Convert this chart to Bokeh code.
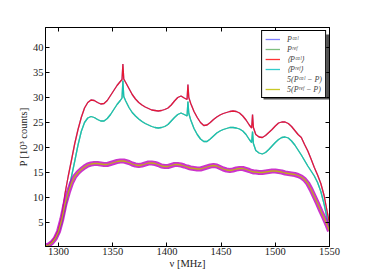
from bokeh.plotting import figure
from bokeh.models import LinearAxis, FixedTicker, CustomJSTickFormatter, Range1d, BoxAnnotation, Legend, LegendItem
from bokeh.embed import file_html
from bokeh.resources import INLINE

nu = [1288, 1291, 1294, 1297, 1300, 1303, 1306, 1309, 1312, 1315, 1318, 1321, 1324, 1327, 1330,
      1333, 1336, 1339, 1342, 1345, 1348, 1351, 1354, 1357, 1358.6, 1359.4, 1360.2, 1362, 1365,
      1368, 1371, 1374, 1377, 1380, 1383, 1386, 1389, 1392, 1395, 1398, 1401, 1404, 1407, 1410,
      1413, 1416, 1418.6, 1419.4, 1420.2, 1422, 1425, 1428, 1431, 1434, 1437, 1440, 1443, 1446,
      1449, 1452, 1455, 1458, 1461, 1464, 1467, 1470, 1473, 1476, 1478.2, 1479.0, 1479.8, 1482,
      1485, 1488, 1491, 1494, 1497, 1500, 1503, 1506, 1509, 1512, 1515, 1518, 1521, 1524, 1527,
      1530, 1533, 1536, 1539, 1542, 1545, 1548, 1550]

p_cal = [0.3, 0.6, 1.2, 2.1, 3.6, 6.2, 10.8, 14.3, 17.5, 20.8, 23.6, 26.0, 27.9, 29.0, 29.5,
         29.4, 29.0, 28.7, 28.8, 29.4, 30.4, 31.4, 32.4, 33.2, 33.6, 36.7, 33.7, 33.0, 31.8,
         30.6, 29.7, 29.0, 28.5, 28.1, 27.8, 27.5, 27.4, 27.3, 27.4, 27.6, 27.9, 28.5, 29.3, 30.0,
         30.3, 29.9, 29.6, 32.6, 30.0, 28.8, 27.2, 26.0, 25.0, 24.4, 24.5, 25.0, 25.6, 26.1,
         26.5, 26.8, 27.0, 27.2, 27.3, 27.2, 26.9, 26.3, 25.5, 24.5, 23.9, 26.6, 24.0, 22.6,
         22.1, 22.0, 22.4, 23.0, 23.6, 24.3, 24.9, 25.1, 25.1, 24.8, 24.2, 23.4, 22.6, 22.0, 20.6,
         19.3, 17.7, 16.0, 14.5, 12.8, 10.4, 7.0, 4.8]

p_ref = [0.3, 0.5, 1.0, 1.7, 2.8, 4.8, 7.7, 11.0, 14.2, 17.3, 20.5, 23.2, 25.0, 25.9, 26.2,
         26.0, 25.6, 25.3, 25.3, 25.8, 26.6, 27.6, 28.6, 29.4, 29.9, 33.4, 30.2, 29.3, 28.0,
         27.0, 26.3, 25.7, 25.2, 24.8, 24.5, 24.2, 24.0, 23.9, 24.0, 24.2, 24.6, 25.3, 26.0, 26.6,
         26.9, 26.6, 26.3, 29.2, 26.8, 25.5, 23.8, 22.6, 21.7, 21.2, 21.2, 21.7, 22.3, 22.9,
         23.3, 23.6, 23.8, 24.0, 24.0, 23.9, 23.7, 23.3, 22.6, 21.6, 21.0, 23.2, 20.8, 19.4,
         18.9, 18.7, 19.0, 19.6, 20.3, 21.0, 21.6, 22.0, 22.1, 21.9, 21.3, 20.5, 19.5, 18.5, 17.4,
         16.3, 15.3, 14.3, 13.0, 11.2, 8.7, 5.6, 3.6]

diff = [0.3, 0.5, 1.0, 1.8, 3.2, 5.6, 8.7, 11.0, 12.9, 14.2, 15.0, 15.6, 16.1, 16.5, 16.7,
        16.8, 16.8, 16.7, 16.6, 16.6, 16.8, 17.0, 17.2, 17.3, 17.3, 17.3, 17.3, 17.2, 17.0,
        16.7, 16.5, 16.4, 16.5, 16.7, 16.9, 16.9, 16.8, 16.6, 16.3, 16.2, 16.2, 16.4, 16.6, 16.6,
        16.5, 16.3, 16.1, 16.1, 16.0, 15.9, 15.8, 15.7, 15.7, 15.9, 16.1, 16.3, 16.4, 16.3,
        16.0, 15.7, 15.5, 15.4, 15.5, 15.7, 15.8, 15.8, 15.6, 15.4, 15.2, 15.2, 15.1, 15.1,
        15.0, 15.0, 15.1, 15.2, 15.3, 15.3, 15.2, 15.1, 14.9, 14.8, 14.7, 14.6, 14.4, 14.1, 13.6,
        12.8, 11.6, 10.2, 8.8, 7.3, 5.9, 4.4, 3.3]

labels = ["Pᶜᵃˡ", "Pʳᵉᶠ", "⟨Pᶜᵃˡ⟩", "⟨Pʳᵉᶠ⟩", "5(Pᶜᵃˡ − P)", "5(Pʳᵉᶠ − P)"]
x_ticks = [1300, 1350, 1400, 1450, 1500, 1550]
y_ticks = [5, 10, 15, 20, 25, 30, 35, 40]

FONT = "Liberation Serif"

p = figure(width=366, height=274, output_backend="svg", toolbar_location=None,
           x_range=Range1d(1288, 1550), y_range=Range1d(0.2, 44),
           min_border_left=45, min_border_top=27, min_border_right=37, min_border_bottom=28)
p.xgrid.visible = False
p.ygrid.visible = False
p.outline_line_color = "black"
p.outline_line_width = 1
p.outline_line_alpha = 1

# legend shadow (frame-relative screen units, y measured up from frame bottom)
shadow = BoxAnnotation(left=218, right=284, top=212, bottom=147,
                       left_units="screen", right_units="screen",
                       top_units="screen", bottom_units="screen",
                       fill_color="#333333", fill_alpha=0.85, line_color=None,
                       level="underlay")
p.add_layout(shadow)

r_blue = p.line(nu, p_cal, color="#0000ff", line_width=1.3, alpha=0.5)
r_green = p.line(nu, p_ref, color="#008000", line_width=1.3, alpha=0.5)
r_red = p.line(nu, p_cal, color="#ff0000", line_width=1.3, alpha=0.8)
r_cyan = p.line(nu, p_ref, color="#00bfbf", line_width=1.3, alpha=0.8)
r_mag = p.line(nu, diff, color="#bf00bf", line_width=5, alpha=0.8)
r_yel = p.line(nu, diff, color="#bfbf00", line_width=1.3, alpha=0.85)
# thin proxy for the noisy series' legend swatch
r_mag_key = p.line([], [], color="#bf00bf", line_width=1.3, alpha=0.6)

for ax in (p.xaxis[0], p.yaxis[0]):
    ax.major_tick_in = 4
    ax.major_tick_out = 0
    ax.minor_tick_line_color = None
    ax.major_label_text_font = FONT
    ax.major_label_text_font_size = "10.5px"
    ax.major_label_text_color = "#222222"
    ax.axis_label_text_font = FONT
    ax.axis_label_text_font_size = "10.5px"
    ax.axis_label_text_font_style = "normal"
    ax.axis_label_text_color = "#222222"
    ax.axis_line_color = "black"

p.xaxis[0].ticker = FixedTicker(ticks=x_ticks)
p.yaxis[0].ticker = FixedTicker(ticks=y_ticks)
p.xaxis[0].axis_label = "ν [MHz]"
p.yaxis[0].axis_label = "P [10³ counts]"
p.xaxis[0].major_label_standoff = 1
p.xaxis[0].axis_label_standoff = 0
p.yaxis[0].major_label_standoff = 2
p.yaxis[0].axis_label_standoff = 1

blank = CustomJSTickFormatter(code="return ''")
top = LinearAxis(ticker=FixedTicker(ticks=x_ticks), formatter=blank)
right = LinearAxis(ticker=FixedTicker(ticks=y_ticks), formatter=blank)
for ax in (top, right):
    ax.major_tick_in = 4
    ax.major_tick_out = 0
    ax.minor_tick_line_color = None
    ax.major_label_standoff = 0
    ax.axis_line_color = "black"
p.add_layout(top, "above")
p.add_layout(right, "right")

legend = Legend(items=[LegendItem(label=labels[0], renderers=[r_blue]),
                       LegendItem(label=labels[1], renderers=[r_green]),
                       LegendItem(label=labels[2], renderers=[r_red]),
                       LegendItem(label=labels[3], renderers=[r_cyan]),
                       LegendItem(label=labels[4], renderers=[r_mag_key]),
                       LegendItem(label=labels[5], renderers=[r_yel])],
                location="top_right")
legend.margin = 3
legend.padding = 3
legend.spacing = 0
legend.glyph_height = 10
legend.label_height = 10
legend.glyph_width = 15
legend.label_standoff = 7
legend.label_text_font = FONT
legend.label_text_font_size = "8px"
legend.label_text_font_style = "italic"
legend.border_line_color = "black"
legend.border_line_width = 1
legend.border_line_alpha = 1
legend.background_fill_alpha = 1
p.add_layout(legend, "center")

open("out.html", "w").write(file_html(p, INLINE))
